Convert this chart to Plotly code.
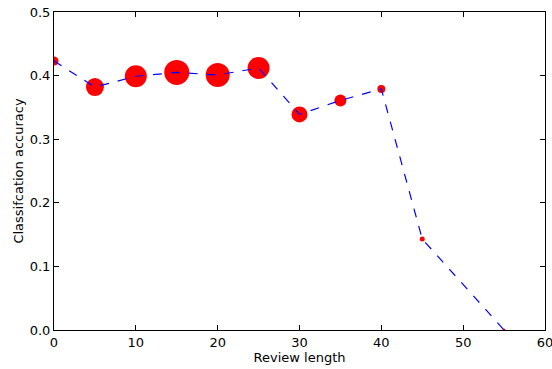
import plotly.graph_objects as go

review_length = [0, 5, 10, 15, 20, 25, 30, 35, 40, 45, 55]
accuracy = [0.423, 0.382, 0.399, 0.405, 0.401, 0.412, 0.339, 0.361, 0.379, 0.143, 0.0]
marker_sizes = [9, 18, 22, 25, 24, 22, 16, 12, 8, 5, 3]

fig = go.Figure()
fig.add_trace(go.Scatter(
    x=review_length, y=accuracy, mode="markers",
    marker=dict(color="red", size=marker_sizes, opacity=1, line=dict(width=0)),
    showlegend=False, cliponaxis=True,
))
fig.add_trace(go.Scatter(
    x=review_length, y=accuracy, mode="lines",
    line=dict(color="blue", width=1.2, dash="dash"),
    showlegend=False, cliponaxis=True,
))

axis_common = dict(
    showgrid=False, zeroline=False, showline=True, linecolor="black", linewidth=1,
    mirror="ticks", ticks="inside", ticklen=5, tickcolor="black", automargin=False,
    ticklabeloverflow="allow",
    tickfont=dict(family="DejaVu Sans", size=13, color="black"),
)
fig.update_xaxes(range=[0, 60], tickvals=[0, 10, 20, 30, 40, 50, 60], ticktext=["0", "10", "20", "30", "40", "50", "60"],
                 title=dict(text="Review length", font=dict(family="DejaVu Sans", size=13, color="black"), standoff=4), **axis_common)
fig.update_yaxes(range=[0, 0.5], dtick=0.1, tickformat=".1f",
                 title=dict(text="Classifcation accuracy", font=dict(family="DejaVu Sans", size=13, color="black"), standoff=3), **axis_common)
fig.update_layout(
    width=552, height=369, margin=dict(l=54, r=7, t=12, b=39),
    paper_bgcolor="white", plot_bgcolor="white",
)
fig.write_html("out.html", config={"displayModeBar": False},
               post_script="document.body.style.margin='0';document.body.style.overflow='hidden';")
